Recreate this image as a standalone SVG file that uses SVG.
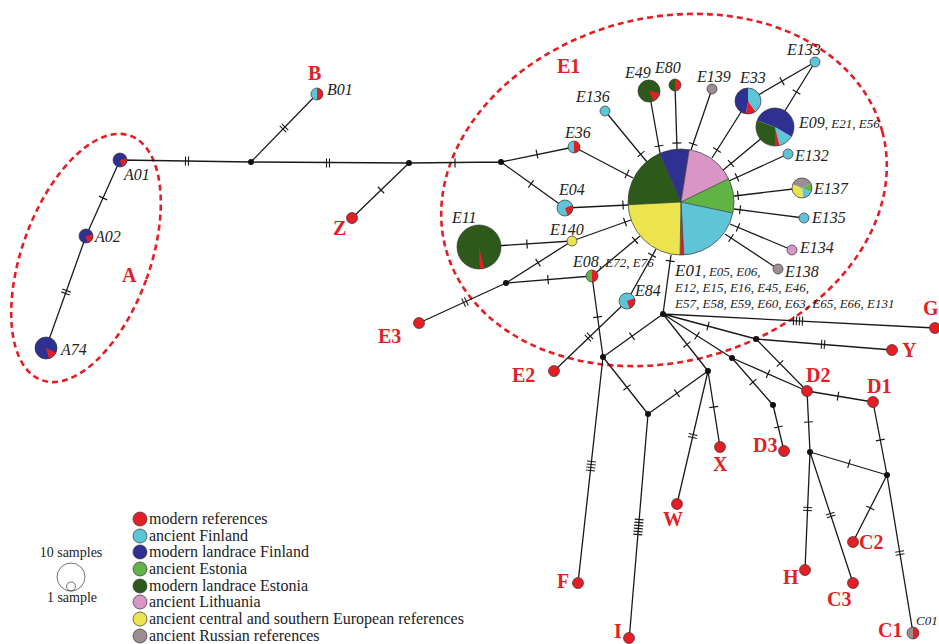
<svg xmlns="http://www.w3.org/2000/svg" width="939" height="644" viewBox="0 0 939 644">
<defs>
<style>
.e{stroke:#1a1a1a;stroke-width:1.3;fill:none}
.o{fill:none;stroke:#333;stroke-width:0.7}
.mv{fill:#111}
.lb{font-family:"Liberation Serif","Times New Roman",serif;font-style:italic;font-size:16px;fill:#222}
.sm{font-size:13px}
.rl{font-family:"Liberation Serif","Times New Roman",serif;font-weight:bold;font-size:20px;fill:#e31e24}
.lg{font-family:"Liberation Serif","Times New Roman",serif;font-size:16px;fill:#222}
.sc{font-family:"Liberation Serif","Times New Roman",serif;font-size:14px;fill:#222}
.dash{fill:none;stroke:#e31e24;stroke-width:2.6;stroke-dasharray:6 4}
.r{fill:#e31e24}.c{fill:#5ec5d9}.b{fill:#2e3192}.g{fill:#62b346}.d{fill:#2d5a1b}.p{fill:#d895c6}.y{fill:#ebe44f}.gr{fill:#9b8d93}
</style>
<path id="t1" d="M0,-4.5V4.5" stroke="#1a1a1a" stroke-width="1.2"/>
<path id="t2" d="M-1.5,-4.5V4.5M1.5,-4.5V4.5" stroke="#1a1a1a" stroke-width="1.1"/>
<path id="t4" d="M-4.5,-4.5V4.5M-1.5,-4.5V4.5M1.5,-4.5V4.5M4.5,-4.5V4.5" stroke="#1a1a1a" stroke-width="1.1"/>
<path id="t6" d="M-7.5,-4.5V4.5M-4.5,-4.5V4.5M-1.5,-4.5V4.5M1.5,-4.5V4.5M4.5,-4.5V4.5M7.5,-4.5V4.5" stroke="#1a1a1a" stroke-width="1.1"/>
</defs>
<rect width="939" height="644" fill="#fff"/>

<g id="groups">
<ellipse class="dash" cx="86" cy="258" rx="64" ry="130" transform="rotate(20 86 258)"/>
<ellipse class="dash" cx="664" cy="190" rx="226" ry="172" transform="rotate(-15 664 190)"/>
</g>

<g id="connectors">
<path class="e" d="M120,160L251,162M120,160L86,236M86,236L46,348M251,162L317,94M251,162L409,163M409,163L352,218M409,163L501,162M501,162L574,147M501,162L565,208M574,147L633,178M565,208L628,205M479,247L572,241M572,241L631,220M506,283L572,241M506,283L592,276M506,283L419,323M592,276L640,236M627,301L656,249M592,276L603,357M627,301L554,371M603,357L663,314M603,357L578,583M603,357L648,414M648,414L708,371M648,414L629,641M708,371L663,314M708,371L720,447M708,371L677,504M663,314L732,358M732,358L773,405M773,405L784,451M732,358L807,391M663,314L756,339M756,339L892,350M756,339L807,391M663,314L935,328M663,314L671,255M807,391L873,402M807,391L810,452M873,402L887,475M810,452L887,475M810,452L805,570M810,452L853,583M887,475L853,542M887,475L913,633"/>
<path class="e" d="M605,111L647,162M649,91L660,153M675,85L677,149M712,89L691,150M748,101L712,158M775,127L722,171M788,154L729,181M802,188L734,196M804,218L734,209M792,250L730,224M778,269L725,234M815,62L748,101M815,62L775,127"/>
<use href="#t2" transform="translate(187,161) rotate(1)"/>
<use href="#t1" transform="translate(103,198) rotate(114)"/>
<use href="#t2" transform="translate(66,292) rotate(110)"/>
<use href="#t2" transform="translate(284,128) rotate(-46)"/>
<use href="#t2" transform="translate(328,163) rotate(0)"/>
<use href="#t1" transform="translate(381,190) rotate(136)"/>
<use href="#t1" transform="translate(455,163) rotate(0)"/>
<use href="#t1" transform="translate(537,154) rotate(-12)"/>
<use href="#t1" transform="translate(531,184) rotate(36)"/>
<use href="#t1" transform="translate(627,174) rotate(27)"/>
<use href="#t1" transform="translate(623,205) rotate(-3)"/>
<use href="#t1" transform="translate(527,244) rotate(-4)"/>
<use href="#t1" transform="translate(625,222) rotate(-20)"/>
<use href="#t1" transform="translate(538,262.6) rotate(-32.5)"/>
<use href="#t1" transform="translate(548,279.6) rotate(-5)"/>
<use href="#t2" transform="translate(465,302) rotate(155)"/>
<use href="#t1" transform="translate(635,240.3) rotate(-40)"/>
<use href="#t1" transform="translate(652,255.2) rotate(-61)"/>
<use href="#t1" transform="translate(597.6,317) rotate(82)"/>
<use href="#t2" transform="translate(589,337) rotate(136)"/>
<use href="#t1" transform="translate(632,336.2) rotate(-35.6)"/>
<use href="#t4" transform="translate(591,466) rotate(96)"/>
<use href="#t1" transform="translate(627,387.4) rotate(52)"/>
<use href="#t1" transform="translate(677,393.2) rotate(-35.6)"/>
<use href="#t6" transform="translate(638.5,527) rotate(95)"/>
<use href="#t1" transform="translate(687,344.4) rotate(52)"/>
<use href="#t1" transform="translate(713.7,407) rotate(81)"/>
<use href="#t2" transform="translate(692.8,436) rotate(103)"/>
<use href="#t1" transform="translate(697,335.7) rotate(32.5)"/>
<use href="#t1" transform="translate(753,382.1) rotate(49)"/>
<use href="#t1" transform="translate(778.3,427) rotate(77)"/>
<use href="#t1" transform="translate(768,373.8) rotate(24)"/>
<use href="#t1" transform="translate(708,326.1) rotate(15)"/>
<use href="#t2" transform="translate(823,344.4) rotate(4.6)"/>
<use href="#t1" transform="translate(780,363.5) rotate(45.6)"/>
<use href="#t4" transform="translate(798,320.9) rotate(3)"/>
<use href="#t1" transform="translate(670.2,261) rotate(-82)"/>
<use href="#t1" transform="translate(838,396.2) rotate(9.5)"/>
<use href="#t1" transform="translate(808.5,422) rotate(87)"/>
<use href="#t1" transform="translate(880.3,440) rotate(79)"/>
<use href="#t1" transform="translate(849,463.6) rotate(16.6)"/>
<use href="#t2" transform="translate(807.6,509) rotate(92.4)"/>
<use href="#t2" transform="translate(830.7,515) rotate(72)"/>
<use href="#t1" transform="translate(870.3,508) rotate(117)"/>
<use href="#t2" transform="translate(899.8,553) rotate(81)"/>
<use href="#t1" transform="translate(641,154) rotate(50)"/>
<use href="#t1" transform="translate(659,146) rotate(80)"/>
<use href="#t1" transform="translate(676.8,143) rotate(88)"/>
<use href="#t1" transform="translate(693.1,144) rotate(109)"/>
<use href="#t1" transform="translate(717,150) rotate(122)"/>
<use href="#t1" transform="translate(731,163.5) rotate(140)"/>
<use href="#t1" transform="translate(737,177.3) rotate(155.4)"/>
<use href="#t1" transform="translate(738,195.5) rotate(173)"/>
<use href="#t1" transform="translate(740,209.8) rotate(7.3)"/>
<use href="#t1" transform="translate(738,227.4) rotate(22.8)"/>
<use href="#t1" transform="translate(731,238) rotate(33.4)"/>
<use href="#t1" transform="translate(782,81.2) rotate(150)"/>
<use href="#t1" transform="translate(796.5,92) rotate(121.6)"/>
</g>

<g id="medians">
<circle class="mv" cx="251" cy="162" r="3"/><circle class="mv" cx="409" cy="163" r="3"/><circle class="mv" cx="501" cy="162" r="3"/><circle class="mv" cx="506" cy="283" r="3"/><circle class="mv" cx="663" cy="314" r="3"/><circle class="mv" cx="603" cy="357" r="3"/><circle class="mv" cx="648" cy="414" r="3"/><circle class="mv" cx="708" cy="371" r="3"/><circle class="mv" cx="756" cy="339" r="3"/><circle class="mv" cx="732" cy="358" r="3"/><circle class="mv" cx="773" cy="405" r="3"/><circle class="mv" cx="810" cy="452" r="3"/><circle class="mv" cx="887" cy="475" r="3"/>
</g>

<g id="node-A01"><circle class="b" cx="120" cy="160" r="7"/><path class="r" d="M120,160L126.76,158.19A7,7 0 0 1 121.81,166.76Z"/><circle class="o" cx="120" cy="160" r="7"/><text class="lb" x="124" y="180">A01</text></g>
<g id="node-A02"><circle class="b" cx="86" cy="236" r="7"/><path class="r" d="M86,236L92.76,234.19A7,7 0 0 1 87.22,242.89Z"/><circle class="o" cx="86" cy="236" r="7"/><text class="lb" x="95" y="242">A02</text></g>
<g id="node-A74"><circle class="b" cx="46" cy="348" r="11"/><path class="r" d="M46,348L55.97,352.65A11,11 0 0 1 48.85,358.63Z"/><circle class="o" cx="46" cy="348" r="11"/><text class="lb" x="61" y="355">A74</text></g>
<g id="node-B01"><path class="c" d="M317,88A6,6 0 0 0 317,100Z"/><path class="r" d="M317,88A6,6 0 0 1 317,100Z"/><circle class="o" cx="317" cy="94" r="6"/><text class="lb" x="327" y="95">B01</text></g>

<g id="node-E01">
<path class="b" d="M681,202L659.44,153.58A53,53 0 0 1 689.29,149.65Z"/>
<path class="p" d="M681,202L689.29,149.65A53,53 0 0 1 728.64,178.77Z"/>
<path class="g" d="M681,202L728.64,178.77A53,53 0 0 1 732.84,213.02Z"/>
<path class="c" d="M681,202L732.84,213.02A53,53 0 0 1 683.77,254.93Z"/>
<path class="r" d="M681,202L683.77,254.93A53,53 0 0 1 680.08,254.99Z"/>
<path class="y" d="M681,202L680.08,254.99A53,53 0 0 1 628.07,204.77Z"/>
<path class="d" d="M681,202L628.07,204.77A53,53 0 0 1 659.44,153.58Z"/>
<path class="o" d="M681,202L659.44,153.58M681,202L689.29,149.65M681,202L728.64,178.77M681,202L732.84,213.02M681,202L683.77,254.93M681,202L680.08,254.99M681,202L628.07,204.77"/>
<circle class="o" cx="681" cy="202" r="53"/>
<text class="lb" x="675" y="276"><tspan font-size="17">E01</tspan><tspan class="sm">, E05, E06,</tspan></text>
<text class="lb sm" x="675" y="292">E12, E15, E16, E45, E46,</text>
<text class="lb sm" x="675" y="308">E57, E58, E59, E60, E63, E65, E66, E131</text>
</g>
<g id="node-E11"><circle class="d" cx="479" cy="247" r="22"/><path class="r" d="M479,247L484.32,268.35A22,22 0 0 1 479.77,268.99Z"/><circle class="o" cx="479" cy="247" r="22"/><text class="lb" x="452" y="223">E11</text></g>
<g id="node-E09"><path class="b" d="M775,127L757.15,120.5A19,19 0 1 1 791.29,136.79Z"/><path class="c" d="M775,127L791.29,136.79A19,19 0 0 1 779.6,145.44Z"/><path class="r" d="M775,127L779.6,145.44A19,19 0 0 1 775,146Z"/><path class="d" d="M775,127L775,146A19,19 0 0 1 757.15,120.5Z"/><circle class="o" cx="775" cy="127" r="19"/><text class="lb" x="799" y="128">E09<tspan class="sm">, E21, E56</tspan></text></g>
<g id="node-E33"><path class="c" d="M748,101L748,88A13,13 0 0 1 755.46,111.65Z"/><path class="r" d="M748,101L755.46,111.65A13,13 0 0 1 745.74,113.8Z"/><path class="b" d="M748,101L745.74,113.8A13,13 0 0 1 748,88Z"/><circle class="o" cx="748" cy="101" r="13"/><text class="lb" x="740" y="83">E33</text></g>
<g id="node-E49"><circle class="d" cx="649" cy="91" r="11"/><path class="r" d="M649,91L659.83,92.91A11,11 0 0 1 653.65,100.97Z"/><circle class="o" cx="649" cy="91" r="11"/><text class="lb" x="625" y="78">E49</text></g>
<g id="node-E80"><path class="d" d="M675,79A6,6 0 0 0 675,91Z"/><path class="r" d="M675,79A6,6 0 0 1 675,91Z"/><circle class="o" cx="675" cy="85" r="6"/><text class="lb" x="655" y="73">E80</text></g>
<g id="node-E139"><circle class="gr" cx="712" cy="89" r="5"/><circle class="o" cx="712" cy="89" r="5"/><text class="lb" x="697" y="82">E139</text></g>
<g id="node-E133"><circle class="c" cx="815" cy="62" r="5"/><circle class="o" cx="815" cy="62" r="5"/><text class="lb" x="787" y="55">E133</text></g>
<g id="node-E136"><circle class="c" cx="605" cy="111" r="5"/><circle class="o" cx="605" cy="111" r="5"/><text class="lb" x="576" y="102">E136</text></g>
<g id="node-E36"><path class="c" d="M574,141A6,6 0 0 0 574,153Z"/><path class="r" d="M574,141A6,6 0 0 1 574,153Z"/><circle class="o" cx="574" cy="147" r="6"/><text class="lb" x="565" y="138">E36</text></g>
<g id="node-E04"><circle class="c" cx="565" cy="208" r="8"/><path class="r" d="M565,208L572.52,205.26A8,8 0 0 1 567.74,215.52Z"/><circle class="o" cx="565" cy="208" r="8"/><text class="lb" x="559" y="195">E04</text></g>
<g id="node-E140"><circle class="y" cx="572" cy="241" r="5"/><circle class="o" cx="572" cy="241" r="5"/><text class="lb" x="550" y="235">E140</text></g>
<g id="node-E08"><path class="g" d="M592,270A6,6 0 0 0 592,282Z"/><path class="r" d="M592,270A6,6 0 0 1 592,282Z"/><circle class="o" cx="592" cy="276" r="6"/><text class="lb" x="573" y="267">E08<tspan class="sm">, E72, E76</tspan></text></g>
<g id="node-E84"><circle class="c" cx="627" cy="301" r="8"/><path class="r" d="M627,301L634.52,298.26A8,8 0 0 1 629.74,308.52Z"/><circle class="o" cx="627" cy="301" r="8"/><text class="lb" x="635" y="296">E84</text></g>
<g id="node-E132"><circle class="c" cx="788" cy="154" r="5"/><circle class="o" cx="788" cy="154" r="5"/><text class="lb" x="795" y="161">E132</text></g>
<g id="node-E137"><path class="gr" d="M802,188L792.6,184.58A10,10 0 0 1 811.06,183.77Z"/><path class="g" d="M802,188L811.06,183.77A10,10 0 0 1 811.06,192.23Z"/><path class="c" d="M802,188L811.06,192.23A10,10 0 0 1 802.87,197.96Z"/><path class="y" d="M802,188L802.87,197.96A10,10 0 0 1 792.6,184.58Z"/><circle class="o" cx="802" cy="188" r="10"/><text class="lb" x="814" y="194">E137</text></g>
<g id="node-E135"><circle class="c" cx="804" cy="218" r="5"/><circle class="o" cx="804" cy="218" r="5"/><text class="lb" x="812" y="223">E135</text></g>
<g id="node-E134"><circle class="p" cx="792" cy="250" r="5"/><circle class="o" cx="792" cy="250" r="5"/><text class="lb" x="800" y="253">E134</text></g>
<g id="node-E138"><circle class="gr" cx="778" cy="269" r="5"/><circle class="o" cx="778" cy="269" r="5"/><text class="lb" x="785" y="277">E138</text></g>
<g id="node-C01"><path class="gr" d="M913,627A6,6 0 0 0 913,639Z"/><path class="r" d="M913,627A6,6 0 0 1 913,639Z"/><circle class="o" cx="913" cy="633" r="6"/><text class="lb sm" x="916" y="625">C01</text></g>

<g id="modern-refs">
<circle class="r" cx="352" cy="218" r="5.5"/><circle class="r" cx="419" cy="323" r="5.5"/><circle class="r" cx="554" cy="371" r="5.5"/><circle class="r" cx="578" cy="583" r="5.5"/><circle class="r" cx="629" cy="638" r="5.5"/><circle class="r" cx="677" cy="504" r="5.5"/><circle class="r" cx="720" cy="447" r="5.5"/><circle class="r" cx="784" cy="451" r="5.5"/><circle class="r" cx="807" cy="391" r="5.5"/><circle class="r" cx="873" cy="402" r="5.5"/><circle class="r" cx="935" cy="328" r="5.5"/><circle class="r" cx="892" cy="350" r="5.5"/><circle class="r" cx="805" cy="570" r="5.5"/><circle class="r" cx="853" cy="583" r="5.5"/><circle class="r" cx="853" cy="542" r="5.5"/>
<g class="o"><circle cx="352" cy="218" r="5.5"/><circle cx="419" cy="323" r="5.5"/><circle cx="554" cy="371" r="5.5"/><circle cx="578" cy="583" r="5.5"/><circle cx="629" cy="638" r="5.5"/><circle cx="677" cy="504" r="5.5"/><circle cx="720" cy="447" r="5.5"/><circle cx="784" cy="451" r="5.5"/><circle cx="807" cy="391" r="5.5"/><circle cx="873" cy="402" r="5.5"/><circle cx="935" cy="328" r="5.5"/><circle cx="892" cy="350" r="5.5"/><circle cx="805" cy="570" r="5.5"/><circle cx="853" cy="583" r="5.5"/><circle cx="853" cy="542" r="5.5"/></g>
</g>

<g id="group-labels">
<text class="rl" x="308" y="80">B</text>
<text class="rl" x="333" y="235">Z</text>
<text class="rl" x="122" y="282">A</text>
<text class="rl" x="557" y="73">E1</text>
<text class="rl" x="378" y="343">E3</text>
<text class="rl" x="512" y="382">E2</text>
<text class="rl" x="557" y="588">F</text>
<text class="rl" x="614" y="638">I</text>
<text class="rl" x="663" y="526">W</text>
<text class="rl" x="713" y="471">X</text>
<text class="rl" x="753" y="452">D3</text>
<text class="rl" x="806" y="382">D2</text>
<text class="rl" x="867" y="393">D1</text>
<text class="rl" x="923" y="315">G</text>
<text class="rl" x="902" y="357">Y</text>
<text class="rl" x="859" y="549">C2</text>
<text class="rl" x="783" y="584">H</text>
<text class="rl" x="827" y="606">C3</text>
<text class="rl" x="878" y="637">C1</text>
</g>

<g id="scale">
<text class="sc" x="71" y="557" text-anchor="middle">10 samples</text>
<circle class="o" cx="71" cy="577" r="14" stroke-width="1"/>
<circle class="o" cx="71" cy="586.5" r="4.5" stroke-width="1"/>
<text class="sc" x="72" y="602" text-anchor="middle">1 sample</text>
</g>

<g id="legend">
<circle class="r" cx="140" cy="519" r="7"/><circle class="c" cx="140" cy="536" r="7"/><circle class="b" cx="140" cy="552" r="7"/><circle class="g" cx="140" cy="569" r="7"/><circle class="d" cx="140" cy="586" r="7"/><circle class="p" cx="140" cy="602" r="7"/><circle class="y" cx="140" cy="619" r="7"/><circle class="gr" cx="140" cy="636" r="7"/>
<g class="o"><circle cx="140" cy="519" r="7"/><circle cx="140" cy="536" r="7"/><circle cx="140" cy="552" r="7"/><circle cx="140" cy="569" r="7"/><circle cx="140" cy="586" r="7"/><circle cx="140" cy="602" r="7"/><circle cx="140" cy="619" r="7"/><circle cx="140" cy="636" r="7"/></g>
<text class="lg" x="149" y="524">modern references</text>
<text class="lg" x="149" y="541">ancient Finland</text>
<text class="lg" x="149" y="557">modern landrace Finland</text>
<text class="lg" x="149" y="574">ancient Estonia</text>
<text class="lg" x="149" y="591">modern landrace Estonia</text>
<text class="lg" x="149" y="607">ancient Lithuania</text>
<text class="lg" x="149" y="624">ancient central and southern European references</text>
<text class="lg" x="149" y="641">ancient Russian references</text>
</g>
</svg>
